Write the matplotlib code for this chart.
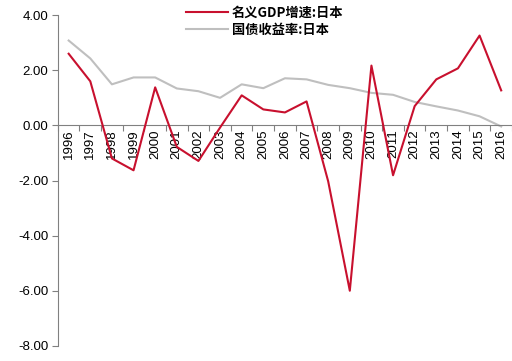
import matplotlib
matplotlib.use("Agg")
import matplotlib.pyplot as plt
import numpy as np

years = [str(y) for y in range(1996, 2017)]
gdp_growth = [2.6, 1.6, -1.2, -1.63, 1.38, -0.78, -1.29, -0.08, 1.09, 0.58, 0.47,
              0.87, -2.03, -6.0, 2.17, -1.81, 0.7, 1.67, 2.07, 3.26, 1.27]
bond_yield = [3.08, 2.43, 1.49, 1.74, 1.74, 1.34, 1.24, 1.0, 1.49, 1.35, 1.71,
              1.67, 1.47, 1.35, 1.18, 1.11, 0.85, 0.69, 0.54, 0.33, -0.04]
yticks = [4, 2, 0, -2, -4, -6, -8]
labels = ["名义GDP增速:日本", "国债收益率:日本"]

plt.rcParams['font.family'] = ['Liberation Sans', 'DejaVu Sans']
fig = plt.figure(figsize=(5.12, 3.61), dpi=100)
ax = fig.add_axes([0.113, 0.042, 0.887, 0.916])

x = np.arange(len(years))
ax.plot(x, gdp_growth, color='#C8102E', lw=1.5, label=labels[0], zorder=3)
ax.plot(x, bond_yield, color='#BFBFBF', lw=1.5, label=labels[1], zorder=2)

ax.set_xlim(-0.5, len(years) - 0.5)
ax.set_ylim(-8, 4)
ax.set_yticks(yticks)
ax.set_yticklabels([f"{v:.2f}" for v in yticks], fontsize=9.5)

ax.spines['top'].set_visible(False)
ax.spines['right'].set_visible(False)
ax.spines['left'].set_color('#808080')
ax.spines['bottom'].set_color('#808080')
ax.spines['bottom'].set_position(('data', 0))

ax.set_xticks(np.arange(-0.5, len(years), 1.0))
ax.set_xticklabels([])
ax.set_xticks(x, minor=True)
ax.set_xticklabels(years, minor=True, rotation=90, fontsize=9.5)
ax.tick_params(axis='x', which='major', direction='out', length=4, color='#808080')
ax.tick_params(axis='x', which='minor', length=0, pad=3)
ax.tick_params(axis='y', direction='out', length=4, color='#808080', pad=3)

leg = ax.legend(loc='upper center', bbox_to_anchor=(0.455, 1.065), frameon=False,
                handlelength=3.2, handletextpad=0.3, labelspacing=0.25,
                prop={'family': ['Noto Sans CJK SC', 'DejaVu Sans'], 'weight': 'bold', 'size': 9.5})

fig.savefig('out.png', dpi=100)
